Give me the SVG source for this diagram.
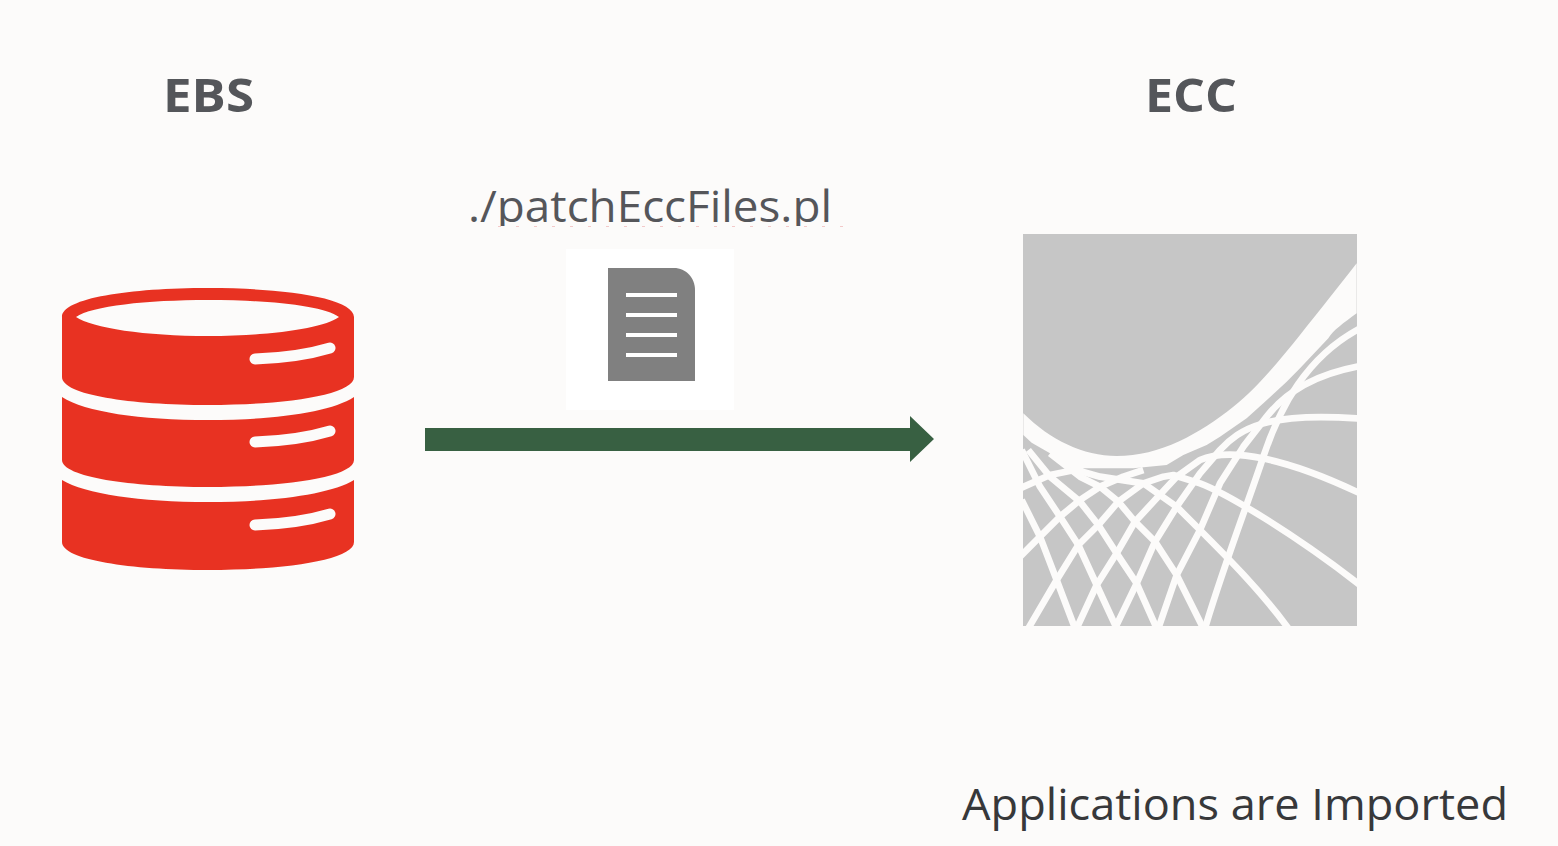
<svg xmlns="http://www.w3.org/2000/svg" width="1558" height="846" viewBox="0 0 1558 846">
<style>
.t{font-family:"Open Sans","Noto Sans","Liberation Sans",sans-serif}
.h{font-size:47px;font-weight:700;fill:#54565a}
.red{fill:#e83323}
.hl{fill:none;stroke:#fcfbfa;stroke-width:11;stroke-linecap:round}
.net{fill:none;stroke:#fcfbfa;stroke-width:20;stroke-linejoin:round}
.doc{stroke:#fff;stroke-width:4}
</style>
<defs><filter id="soft" x="-5%" y="-5%" width="110%" height="110%"><feGaussianBlur stdDeviation="0.6"/></filter></defs>
<rect width="1558" height="846" fill="#fcfbfa"/>
<g id="ebs-label"><text class="t h" x="163" y="112" textLength="91" lengthAdjust="spacingAndGlyphs">EBS</text></g>
<g id="ecc-label"><text class="t h" x="1145" y="112" textLength="92" lengthAdjust="spacingAndGlyphs">ECC</text></g>
<g id="script-label">
<text class="t" x="468" y="222" font-size="44" fill="#55565a" textLength="364" lengthAdjust="spacingAndGlyphs">./patchEccFiles.pl</text>
<rect x="460" y="226" width="390" height="14" fill="#fcfbfa"/>
<path d="M498 226.500H845" stroke="#f3c9c9" stroke-width="1" stroke-dasharray="3 15"/>
</g>
<g id="ebs-database" filter="url(#soft)">
<path class="red" fill-rule="evenodd" d="M62 317C62 298 130 288 208 288S354 298 354 317V377C354 395 285 405 208 405S62 395 62 377ZM76 317C92 328 145 336 208 336S324 328 339 317C324 306 270 300 208 300S92 306 76 317Z"/>
<path class="red" d="M62 397C85 412 140 420 208 420S331 412 354 397V460C354 477 285 487 208 487S62 477 62 460Z"/>
<path class="red" d="M62 480C85 494 140 502 208 502S331 494 354 480V542C354 560 285 570 208 570S62 560 62 542Z"/>
<path class="hl" d="M255 359C285 358 310 354 330 348"/>
<path class="hl" d="M255 442C285 441 310 437 330 431"/>
<path class="hl" d="M255 525C285 524 310 520 330 514"/>
</g>
<g id="script-file" filter="url(#soft)">
<rect x="566" y="249" width="168" height="161" fill="#fff"/>
<path fill="#808080" d="M608 268H674C686 268 695 278 695 290V381H608Z"/>
<path class="doc" d="M626 295H677M626 315H677M626 335H677M626 355H677"/>
</g>
<g id="connectors">
<path fill="#386042" d="M425 428H910V416L934 439L910 462V451H425Z"/>
</g>
<g id="ecc-logo" filter="url(#soft)">
<rect x="1023" y="234" width="334" height="392" fill="#c6c6c6"/>
<svg x="1023" y="234" width="334" height="392" viewBox="70 42 1000 1176">
<path fill="#fcfbfa" d="M70 580C150 660 250 708 350 708C480 708 600 640 700 560C770 505 840 420 900 345S1020 195 1070 130V280C1030 310 1000 330 985 355L900 445L860 485L790 550L740 595L660 650L620 675L550 705L500 735L400 745H210L150 700L95 668L70 645Z"/>
<g class="net">
<path d="M615 1225C670 1040 740 860 790 710C840 560 920 410 1080 325"/>
<path d="M475 1225L530 1065L600 930L660 790L730 680L800 590C850 525 930 465 1080 438"/>
<path d="M345 1225L410 1090L465 965L530 860L600 760L660 690C720 625 800 575 1080 596"/>
<path d="M230 1225L290 1095L350 1000L405 905L470 835L530 770L600 720C690 680 860 715 1080 820"/>
<path d="M85 1225L170 1080L235 975L295 915L355 845L430 790L490 770L520 765L600 790C680 820 880 940 1080 1095"/>
<path d="M60 805L150 765L250 745"/>
<path d="M60 1010L120 950L180 890L240 840L300 800L370 770L430 750"/>
<path d="M65 690L120 800L180 890L235 975L290 1095L350 1225"/>
<path d="M65 840L120 950L170 1080L225 1225"/>
<path d="M85 690L150 770L240 845L295 915L350 1000L410 1090L470 1225"/>
<path d="M150 700L240 770L300 800L355 845L405 905L465 965L530 1065L610 1225"/>
<path d="M210 745L300 770L430 790L530 860L600 930C680 1010 780 1110 865 1225"/>
</g>
</svg>
</g>
<g id="status-label"><text class="t" x="962" y="820" font-size="44" fill="#37383a" textLength="546" lengthAdjust="spacingAndGlyphs">Applications are Imported</text></g>
</svg>
